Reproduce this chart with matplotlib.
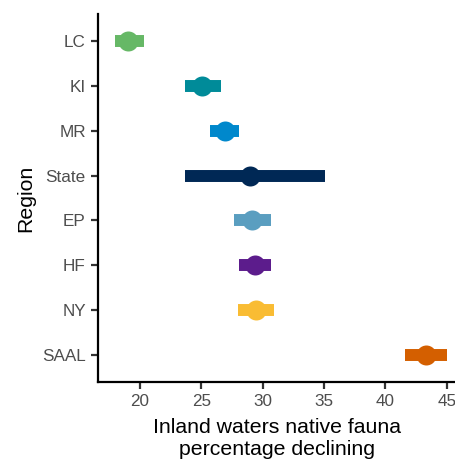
import matplotlib
matplotlib.use("Agg")
import matplotlib.pyplot as plt

plt.rcParams['font.family'] = ['Liberation Sans', 'DejaVu Sans']

# data
regions = ['LC', 'KI', 'MR', 'State', 'EP', 'HF', 'NY', 'SAAL']
means = [19.0, 25.05, 26.9, 29.0, 29.1, 29.4, 29.45, 43.3]
lower = [18.0, 23.7, 25.7, 23.7, 27.65, 28.1, 28.0, 41.6]
upper = [20.3, 26.6, 28.1, 35.1, 30.7, 30.7, 30.9, 45.0]
colors = ['#66b866', '#008b99', '#0088cc', '#002855',
          '#5a9ec0', '#5c1c8c', '#f9bc33', '#d45f00']

fig = plt.figure(figsize=(4.56, 4.59), dpi=100)
ax = fig.add_axes([98/456, 1 - 382/459, 358/456, 368/459])

ypos = list(range(len(regions)))
for y, m, lo, hi, c in zip(ypos, means, lower, upper, colors):
    ax.plot([lo, hi], [y, y], color=c, lw=8.6, solid_capstyle='butt', zorder=2)
    ax.plot(m, y, 'o', color=c, ms=14.4, mec='none', zorder=3)

ax.set_xlim(16.58, 45.75)
ax.set_ylim(len(regions) - 0.4, -0.6)
ax.set_yticks(ypos)
ax.set_yticklabels(regions)
ax.set_xticks([20, 25, 30, 35, 40, 45])

for s in ['top', 'right']:
    ax.spines[s].set_visible(False)
for s in ['left', 'bottom']:
    ax.spines[s].set_linewidth(1.6)
    ax.spines[s].set_color('black')

ax.tick_params(axis='both', length=4.8, width=1.6, color='#333333',
               labelcolor='#4d4d4d', labelsize=12.3, pad=4)

ax.set_ylabel('Region', fontsize=15.3, color='black', labelpad=5)
ax.set_xlabel('Inland waters native fauna\npercentage declining',
              fontsize=15.3, color='black', labelpad=6, linespacing=1.25)

fig.savefig('out.png', dpi=100)
